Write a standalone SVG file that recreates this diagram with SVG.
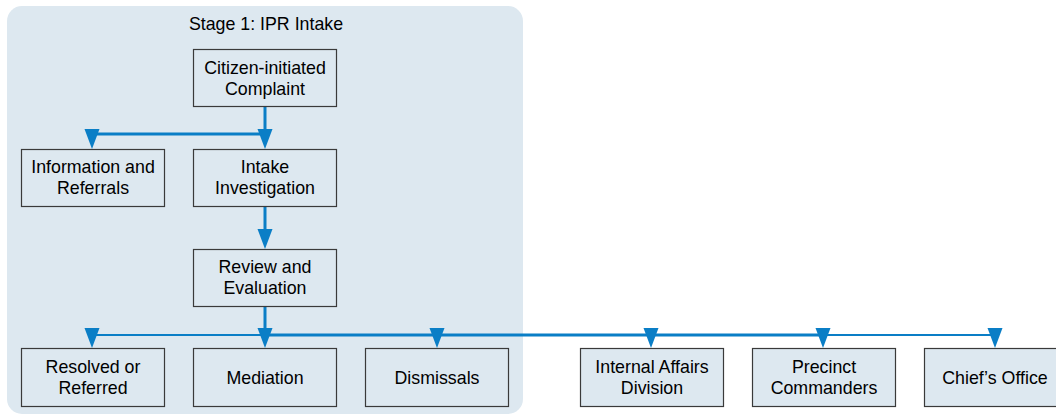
<svg xmlns="http://www.w3.org/2000/svg" width="1056" height="415" viewBox="0 0 1056 415">
  <style>
    .stage { fill: #dde8f0; stroke: none; }
    .box { fill: #dde8f0; stroke: #3a3a3a; stroke-width: 1.2; }
    .lbl { font-family: "Liberation Sans", Arial, sans-serif; font-size: 17.8px; fill: #000; text-anchor: middle; }
    .wire { stroke: #0a7ec6; fill: none; }
    .head { fill: #0a7ec6; }
  </style>
  <defs>
    <!-- arrowhead with its tip at the origin, pointing down -->
    <path id="ah" class="head" d="M-7.5,-20 L7.5,-20 L0,0 Z"/>
  </defs>

  <rect id="stage1" class="stage" x="7" y="6" width="516" height="408" rx="15" ry="15"/>
  <text class="lbl" x="266" y="30">Stage 1: IPR Intake</text>

  <g id="connectors">
    <line class="wire" stroke-width="3" x1="265" y1="106" x2="265" y2="140"/>
    <line class="wire" stroke-width="3" x1="92" y1="134" x2="266.5" y2="134"/>
    <line class="wire" stroke-width="3" x1="92" y1="134" x2="92" y2="140"/>
    <line class="wire" stroke-width="3" x1="265" y1="206" x2="265" y2="240"/>
    <line class="wire" stroke-width="3" x1="265" y1="306" x2="265" y2="340"/>
    <line class="wire" stroke-width="2" x1="92" y1="335" x2="265" y2="335"/>
    <line class="wire" stroke-width="3" x1="265" y1="335" x2="823" y2="335"/>
    <line class="wire" stroke-width="2" x1="823" y1="335" x2="995" y2="335"/>
    <use href="#ah" x="92" y="149"/>
    <use href="#ah" x="265" y="149"/>
    <use href="#ah" x="265" y="249"/>
    <use href="#ah" x="92" y="348"/>
    <use href="#ah" x="265" y="348"/>
    <use href="#ah" x="437" y="348"/>
    <use href="#ah" x="651" y="348"/>
    <use href="#ah" x="823" y="348"/>
    <use href="#ah" x="995" y="348"/>
  </g>

  <g id="complaint">
    <rect class="box" x="193.5" y="49.5" width="143" height="57"/>
    <text class="lbl" x="265" y="74">Citizen-initiated</text>
    <text class="lbl" x="265" y="95">Complaint</text>
  </g>
  <g id="info-referrals">
    <rect class="box" x="21.5" y="149.5" width="143" height="57"/>
    <text class="lbl" x="93" y="173">Information and</text>
    <text class="lbl" x="93" y="194">Referrals</text>
  </g>
  <g id="intake-investigation">
    <rect class="box" x="193.5" y="149.5" width="143" height="57"/>
    <text class="lbl" x="265" y="173">Intake</text>
    <text class="lbl" x="265" y="194">Investigation</text>
  </g>
  <g id="review-evaluation">
    <rect class="box" x="193.5" y="249.5" width="143" height="57"/>
    <text class="lbl" x="265" y="273">Review and</text>
    <text class="lbl" x="265" y="294">Evaluation</text>
  </g>
  <g id="resolved-referred">
    <rect class="box" x="21.5" y="348.5" width="143" height="58"/>
    <text class="lbl" x="93" y="373">Resolved or</text>
    <text class="lbl" x="93" y="394">Referred</text>
  </g>
  <g id="mediation">
    <rect class="box" x="193.5" y="348.5" width="143" height="58"/>
    <text class="lbl" x="265" y="384">Mediation</text>
  </g>
  <g id="dismissals">
    <rect class="box" x="365.5" y="348.5" width="143" height="58"/>
    <text class="lbl" x="437" y="384">Dismissals</text>
  </g>
  <g id="internal-affairs">
    <rect class="box" x="580.5" y="348.5" width="143" height="58"/>
    <text class="lbl" x="652" y="373">Internal Affairs</text>
    <text class="lbl" x="652" y="394">Division</text>
  </g>
  <g id="precinct-commanders">
    <rect class="box" x="752.5" y="348.5" width="143" height="58"/>
    <text class="lbl" x="824" y="373">Precinct</text>
    <text class="lbl" x="824" y="394">Commanders</text>
  </g>
  <g id="chiefs-office">
    <rect class="box" x="924.5" y="348.5" width="143" height="58"/>
    <text class="lbl" x="995" y="384">Chief’s Office</text>
  </g>
</svg>
